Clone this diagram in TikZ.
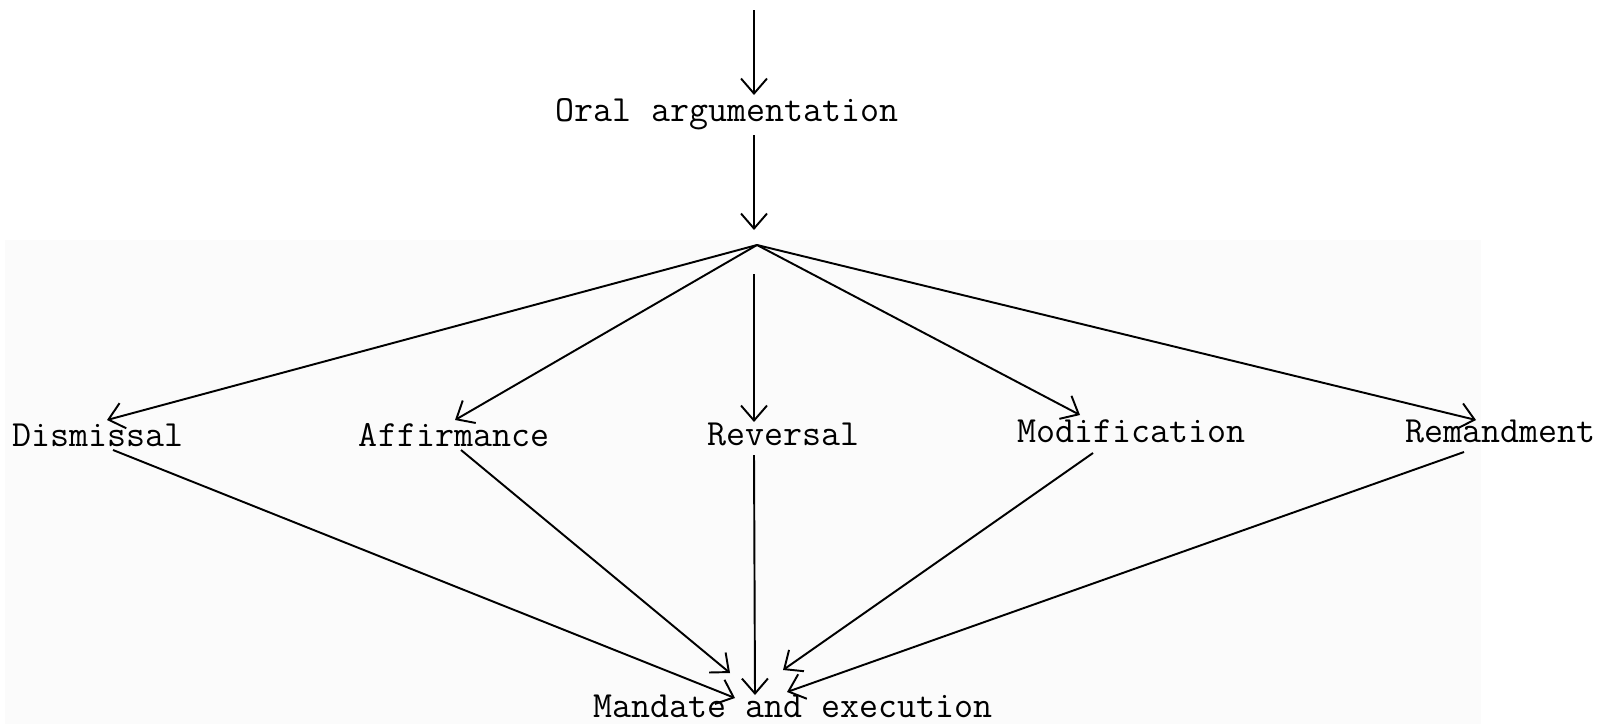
\documentclass[tikz,border=0pt]{standalone}
\usepackage{fontspec}
\usetikzlibrary{arrows.meta}

\begin{document}
\begin{tikzpicture}[x=0.02cm,y=-0.02cm,
    outcome/.style={font=\ttfamily\fontsize{21}{23}\selectfont,inner sep=0pt},
    flow/.style={-{Straight Barb[length=0.3cm,width=0.52cm]},line width=1.1pt}]
    \useasboundingbox (0,0) rectangle (1605,724);
    \fill[black!1.5] (5,240) rectangle (1481,724);

    \node[outcome] (oral) at (727,114) {Oral argumentation};
    \node[outcome] (dis) at (98,435) {Dismissal};
    \node[outcome] (aff) at (454,435) {Affirmance};
    \node[outcome] (rev) at (783,434) {Reversal};
    \node[outcome] (mod) at (1131,431) {Modification};
    \node[outcome] (rem) at (1500,431) {Remandment};
    \node[outcome] (man) at (793,706) {Mandate and execution};
    \coordinate (start) at (754,10);
    \coordinate (split) at (757,245);

    \draw[flow] (start) -- ([shift={(27,-19)}]oral.center);
    \draw[flow] ([shift={(27,21)}]oral.center) -- ([shift={(-3,-15)}]split);

    \draw[flow] (split) -- ([shift={(9,-15)}]dis.center);
    \draw[flow] (split) -- ([shift={(1,-15)}]aff.center);
    \draw[flow] ([shift={(-3,29)}]split) -- ([shift={(-29,-12)}]rev.center);
    \draw[flow] (split) -- ([shift={(-51,-16)}]mod.center);
    \draw[flow] (split) -- ([shift={(-24,-11)}]rem.center);

    \draw[flow] ([shift={(15,15)}]dis.center) -- ([shift={(-58,-8)}]man.center);
    \draw[flow] ([shift={(7,15)}]aff.center) -- ([shift={(-63,-33)}]man.center);
    \draw[flow] ([shift={(-29,21)}]rev.center) -- ([shift={(-38,-11)}]man.center);
    \draw[flow] ([shift={(-38,22)}]mod.center) -- ([shift={(-10,-36)}]man.center);
    \draw[flow] ([shift={(-36,21)}]rem.center) -- ([shift={(-6,-14)}]man.center);
\end{tikzpicture}
\end{document}
